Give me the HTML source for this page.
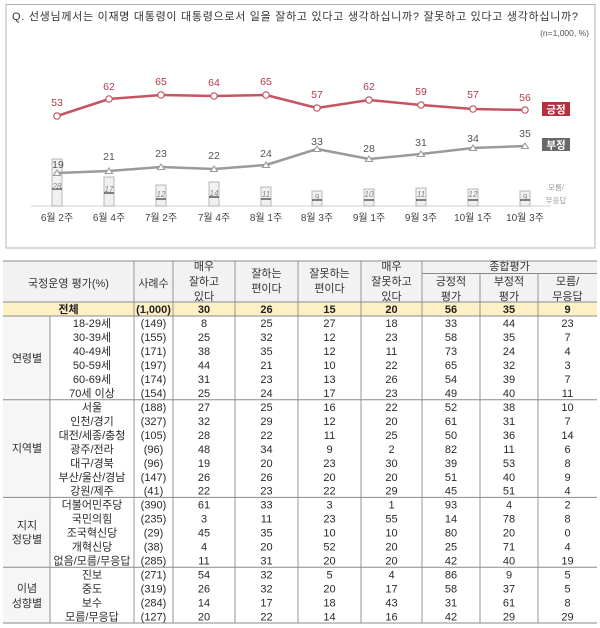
<!DOCTYPE html>
<html><head><meta charset="utf-8"><style>
html,body{margin:0;padding:0;background:#fff;}
svg{display:block;}
text{font-family:"Liberation Sans","Noto Sans CJK KR",sans-serif;}
</style></head><body>
<svg width="600" height="628" viewBox="0 0 600 628" xmlns="http://www.w3.org/2000/svg">
<rect x="0" y="0" width="600" height="628" fill="#fff"/>
<!-- Chart frame -->
<rect x="6" y="4.5" width="589" height="243.5" fill="#fff" stroke="#b5b5b5" stroke-width="1"/>
<text x="12" y="20" font-size="11" fill="#333" textLength="566">Q. 선생님께서는 이재명 대통령이 대통령으로서 일을 잘하고 있다고 생각하십니까? 잘못하고 있다고 생각하십니까?</text>
<text x="589" y="36" font-size="8.5" fill="#555" text-anchor="end">(n=1,000, %)</text>

<!-- axis -->
<line x1="31" y1="206" x2="551" y2="206" stroke="#d0d0d0" stroke-width="1"/>

<!-- bars -->
<g fill="#f1f1f1" stroke="#a8a8a8" stroke-width="0.8">
<rect x="52" y="159" width="10" height="47"/>
<rect x="104" y="177" width="10" height="29"/>
<rect x="156" y="185" width="10" height="21"/>
<rect x="209" y="182" width="10" height="24"/>
<rect x="261" y="187" width="10" height="19"/>
<rect x="312" y="191" width="10" height="15"/>
<rect x="364" y="189" width="10" height="17"/>
<rect x="416" y="188" width="10" height="18"/>
<rect x="468" y="189" width="10" height="17"/>
<rect x="520" y="191" width="10" height="15"/>
</g>
<g stroke="#333" stroke-width="1.2">
<line x1="52" y1="189" x2="62" y2="189"/>
<line x1="104" y1="193" x2="114" y2="193"/>
<line x1="156" y1="199" x2="166" y2="199"/>
<line x1="209" y1="197" x2="219" y2="197"/>
<line x1="261" y1="199" x2="271" y2="199"/>
<line x1="312" y1="200" x2="322" y2="200"/>
<line x1="364" y1="200" x2="374" y2="200"/>
<line x1="416" y1="200" x2="426" y2="200"/>
<line x1="468" y1="200" x2="478" y2="200"/>
<line x1="520" y1="200" x2="530" y2="200"/>
</g>
<g font-size="8" fill="#888" font-style="italic" text-anchor="middle">
<text x="57" y="189">28</text>
<text x="109" y="192">17</text>
<text x="161" y="197">12</text>
<text x="214" y="196">14</text>
<text x="266" y="197">11</text>
<text x="317" y="200">9</text>
<text x="369" y="197">10</text>
<text x="421" y="197">11</text>
<text x="473" y="197">12</text>
<text x="525" y="200">9</text>
</g>
<g font-size="7.5" fill="#999" text-anchor="middle">
<text x="556" y="190">모름/</text>
<text x="556" y="203">무응답</text>
</g>

<!-- lines -->
<polyline points="57,116 109,99 161,95 214,96 266,95 317,108 369,100 421,105 473,109 525,110" stroke="#c65463" stroke-width="2.5" fill="none" stroke-linejoin="round"/>
<polyline points="57,173 109,171 161,167 214,169 266,165 317,149 369,159 421,154 473,148 525,146" stroke="#9a9a9a" stroke-width="2.5" fill="none" stroke-linejoin="round"/>
<g fill="#fff" stroke="#c65463" stroke-width="1.2">
<circle cx="57" cy="116" r="3.2"/><circle cx="109" cy="99" r="3.2"/><circle cx="161" cy="95" r="3.2"/><circle cx="214" cy="96" r="3.2"/><circle cx="266" cy="95" r="3.2"/><circle cx="317" cy="108" r="3.2"/><circle cx="369" cy="100" r="3.2"/><circle cx="421" cy="105" r="3.2"/><circle cx="473" cy="109" r="3.2"/><circle cx="525" cy="110" r="3.2"/>
</g>
<g fill="#fff" stroke="#9a9a9a" stroke-width="1.1">
<polygon points="57,170 60.5,175.5 53.5,175.5"/>
<polygon points="109,168 112.5,173.5 105.5,173.5"/>
<polygon points="161,164 164.5,169.5 157.5,169.5"/>
<polygon points="214,166 217.5,171.5 210.5,171.5"/>
<polygon points="266,162 269.5,167.5 262.5,167.5"/>
<polygon points="317,146 320.5,151.5 313.5,151.5"/>
<polygon points="369,156 372.5,161.5 365.5,161.5"/>
<polygon points="421,151 424.5,156.5 417.5,156.5"/>
<polygon points="473,145 476.5,150.5 469.5,150.5"/>
<polygon points="525,143 528.5,148.5 521.5,148.5"/>
</g>
<g font-size="10.5" fill="#b23a4a" text-anchor="middle">
<text x="57" y="106">53</text>
<text x="109" y="90">62</text>
<text x="161" y="85">65</text>
<text x="214" y="86">64</text>
<text x="266" y="85">65</text>
<text x="317" y="98">57</text>
<text x="369" y="90">62</text>
<text x="421" y="95">59</text>
<text x="473" y="98">57</text>
<text x="525" y="101">56</text>
</g>
<g font-size="10.5" fill="#555" text-anchor="middle">
<text x="58" y="168">19</text>
<text x="109" y="160">21</text>
<text x="161" y="157">23</text>
<text x="214" y="159">22</text>
<text x="266" y="157">24</text>
<text x="317" y="145">33</text>
<text x="369" y="152">28</text>
<text x="421" y="146">31</text>
<text x="473" y="142">34</text>
<text x="525" y="137">35</text>
</g>
<!-- legend -->
<rect x="542" y="102" width="28" height="14" fill="#b3303f"/>
<text x="556" y="113" font-size="10.5" font-weight="bold" fill="#fff" text-anchor="middle">긍정</text>
<rect x="542" y="138" width="28" height="13" fill="#696969"/>
<text x="556" y="148.5" font-size="10.5" font-weight="bold" fill="#fff" text-anchor="middle">부정</text>
<!-- x labels -->
<g font-size="10" fill="#444" text-anchor="middle">
<text x="57" y="221">6월 2주</text>
<text x="109" y="221">6월 4주</text>
<text x="161" y="221">7월 2주</text>
<text x="214" y="221">7월 4주</text>
<text x="266" y="221">8월 1주</text>
<text x="317" y="221">8월 3주</text>
<text x="369" y="221">9월 1주</text>
<text x="421" y="221">9월 3주</text>
<text x="473" y="221">10월 1주</text>
<text x="525" y="221">10월 3주</text>
</g>

<!-- TABLE -->
<rect x="3" y="261" width="594" height="41" fill="#f2f2f2"/>
<rect x="3" y="302" width="594" height="14" fill="#fdf0c4"/>
<rect x="3" y="316" width="47" height="307" fill="#f6f6f6"/>
<g stroke="#8a8a8a" stroke-width="1">
<line x1="3" y1="261" x2="597" y2="261"/>
<line x1="422" y1="273.5" x2="597" y2="273.5"/>
<line x1="3" y1="302" x2="597" y2="302"/>
<line x1="3" y1="316" x2="597" y2="316"/>
<line x1="3" y1="399.7" x2="597" y2="399.7"/>
<line x1="3" y1="497.4" x2="597" y2="497.4"/>
<line x1="3" y1="567.2" x2="597" y2="567.2"/>
<line x1="3" y1="623" x2="597" y2="623"/>
</g>
<g stroke="#8a8a8a" stroke-width="0.9">
<line x1="50" y1="316" x2="50" y2="623"/>
<line x1="134" y1="261" x2="134" y2="623"/>
<line x1="173" y1="261" x2="173" y2="623"/>
<line x1="235" y1="261" x2="235" y2="623"/>
<line x1="298" y1="261" x2="298" y2="623"/>
<line x1="361" y1="261" x2="361" y2="623"/>
<line x1="422" y1="261" x2="422" y2="623"/>
<line x1="480" y1="273.5" x2="480" y2="623"/>
<line x1="538" y1="273.5" x2="538" y2="623"/>
</g>
<!-- header text -->
<g font-size="11" fill="#333" text-anchor="middle">
<text x="68.5" y="287">국정운영 평가(%)</text>
<text x="153.5" y="287">사례수</text>
<text x="204" y="270">매우</text>
<text x="204" y="285">잘하고</text>
<text x="204" y="300">있다</text>
<text x="266.5" y="277">잘하는</text>
<text x="266.5" y="292">편이다</text>
<text x="329.5" y="277">잘못하는</text>
<text x="329.5" y="292">편이다</text>
<text x="391.5" y="270">매우</text>
<text x="391.5" y="285">잘못하고</text>
<text x="391.5" y="300">있다</text>
<text x="509.5" y="270">종합평가</text>
<text x="451" y="285">긍정적</text>
<text x="451" y="300">평가</text>
<text x="509" y="285">부정적</text>
<text x="509" y="300">평가</text>
<text x="567.5" y="285">모름/</text>
<text x="567.5" y="300">무응답</text>
</g>
<!-- 전체 -->
<g font-size="11" fill="#222" font-weight="bold" text-anchor="middle">
<text x="68.5" y="313">전체</text>
<text x="153.5" y="313">(1,000)</text>
<text x="204" y="313">30</text><text x="266.5" y="313">26</text><text x="329.5" y="313">15</text><text x="391.5" y="313">20</text><text x="451" y="313">56</text><text x="509" y="313">35</text><text x="567.5" y="313">9</text>
</g>
<!-- group labels -->
<g font-size="11" fill="#333" text-anchor="middle">
<text x="27" y="362">연령별</text>
<text x="27" y="452">지역별</text>
<text x="27" y="529">지지</text>
<text x="27" y="543">정당별</text>
<text x="27" y="592">이념</text>
<text x="27" y="607">성향별</text>
</g>
<g font-size="11" fill="#2a2a2a" text-anchor="middle">
<g transform="translate(0,327)"><text x="92">18-29세</text><text x="153.5">(149)</text><text x="204">8</text><text x="266.5">25</text><text x="329.5">27</text><text x="391.5">18</text><text x="451">33</text><text x="509">44</text><text x="567.5">23</text></g>
<g transform="translate(0,341)"><text x="92">30-39세</text><text x="153.5">(155)</text><text x="204">25</text><text x="266.5">32</text><text x="329.5">12</text><text x="391.5">23</text><text x="451">58</text><text x="509">35</text><text x="567.5">7</text></g>
<g transform="translate(0,355)"><text x="92">40-49세</text><text x="153.5">(171)</text><text x="204">38</text><text x="266.5">35</text><text x="329.5">12</text><text x="391.5">11</text><text x="451">73</text><text x="509">24</text><text x="567.5">4</text></g>
<g transform="translate(0,369)"><text x="92">50-59세</text><text x="153.5">(197)</text><text x="204">44</text><text x="266.5">21</text><text x="329.5">10</text><text x="391.5">22</text><text x="451">65</text><text x="509">32</text><text x="567.5">3</text></g>
<g transform="translate(0,383)"><text x="92">60-69세</text><text x="153.5">(174)</text><text x="204">31</text><text x="266.5">23</text><text x="329.5">13</text><text x="391.5">26</text><text x="451">54</text><text x="509">39</text><text x="567.5">7</text></g>
<g transform="translate(0,397)"><text x="92">70세 이상</text><text x="153.5">(154)</text><text x="204">25</text><text x="266.5">24</text><text x="329.5">17</text><text x="391.5">23</text><text x="451">49</text><text x="509">40</text><text x="567.5">11</text></g>
<g transform="translate(0,411)"><text x="92">서울</text><text x="153.5">(188)</text><text x="204">27</text><text x="266.5">25</text><text x="329.5">16</text><text x="391.5">22</text><text x="451">52</text><text x="509">38</text><text x="567.5">10</text></g>
<g transform="translate(0,425)"><text x="92">인천/경기</text><text x="153.5">(327)</text><text x="204">32</text><text x="266.5">29</text><text x="329.5">12</text><text x="391.5">20</text><text x="451">61</text><text x="509">31</text><text x="567.5">7</text></g>
<g transform="translate(0,439)"><text x="92">대전/세종/충청</text><text x="153.5">(105)</text><text x="204">28</text><text x="266.5">22</text><text x="329.5">11</text><text x="391.5">25</text><text x="451">50</text><text x="509">36</text><text x="567.5">14</text></g>
<g transform="translate(0,453)"><text x="92">광주/전라</text><text x="153.5">(96)</text><text x="204">48</text><text x="266.5">34</text><text x="329.5">9</text><text x="391.5">2</text><text x="451">82</text><text x="509">11</text><text x="567.5">6</text></g>
<g transform="translate(0,467)"><text x="92">대구/경북</text><text x="153.5">(96)</text><text x="204">19</text><text x="266.5">20</text><text x="329.5">23</text><text x="391.5">30</text><text x="451">39</text><text x="509">53</text><text x="567.5">8</text></g>
<g transform="translate(0,481)"><text x="92">부산/울산/경남</text><text x="153.5">(147)</text><text x="204">26</text><text x="266.5">26</text><text x="329.5">20</text><text x="391.5">20</text><text x="451">51</text><text x="509">40</text><text x="567.5">9</text></g>
<g transform="translate(0,494.5)"><text x="92">강원/제주</text><text x="153.5">(41)</text><text x="204">22</text><text x="266.5">23</text><text x="329.5">22</text><text x="391.5">29</text><text x="451">45</text><text x="509">51</text><text x="567.5">4</text></g>
<g transform="translate(0,508.5)"><text x="92">더불어민주당</text><text x="153.5">(390)</text><text x="204">61</text><text x="266.5">33</text><text x="329.5">3</text><text x="391.5">1</text><text x="451">93</text><text x="509">4</text><text x="567.5">2</text></g>
<g transform="translate(0,522.5)"><text x="92">국민의힘</text><text x="153.5">(235)</text><text x="204">3</text><text x="266.5">11</text><text x="329.5">23</text><text x="391.5">55</text><text x="451">14</text><text x="509">78</text><text x="567.5">8</text></g>
<g transform="translate(0,536.5)"><text x="92">조국혁신당</text><text x="153.5">(29)</text><text x="204">45</text><text x="266.5">35</text><text x="329.5">10</text><text x="391.5">10</text><text x="451">80</text><text x="509">20</text><text x="567.5">0</text></g>
<g transform="translate(0,550.5)"><text x="92">개혁신당</text><text x="153.5">(38)</text><text x="204">4</text><text x="266.5">20</text><text x="329.5">52</text><text x="391.5">20</text><text x="451">25</text><text x="509">71</text><text x="567.5">4</text></g>
<g transform="translate(0,564.5)"><text x="92">없음/모름/무응답</text><text x="153.5">(285)</text><text x="204">11</text><text x="266.5">31</text><text x="329.5">20</text><text x="391.5">20</text><text x="451">42</text><text x="509">40</text><text x="567.5">19</text></g>
<g transform="translate(0,578.5)"><text x="92">진보</text><text x="153.5">(271)</text><text x="204">54</text><text x="266.5">32</text><text x="329.5">5</text><text x="391.5">4</text><text x="451">86</text><text x="509">9</text><text x="567.5">5</text></g>
<g transform="translate(0,592.5)"><text x="92">중도</text><text x="153.5">(319)</text><text x="204">26</text><text x="266.5">32</text><text x="329.5">20</text><text x="391.5">17</text><text x="451">58</text><text x="509">37</text><text x="567.5">5</text></g>
<g transform="translate(0,606.5)"><text x="92">보수</text><text x="153.5">(284)</text><text x="204">14</text><text x="266.5">17</text><text x="329.5">18</text><text x="391.5">43</text><text x="451">31</text><text x="509">61</text><text x="567.5">8</text></g>
<g transform="translate(0,620.5)"><text x="92">모름/무응답</text><text x="153.5">(127)</text><text x="204">20</text><text x="266.5">22</text><text x="329.5">14</text><text x="391.5">16</text><text x="451">42</text><text x="509">29</text><text x="567.5">29</text></g>
</g>
</svg>
</body></html>
